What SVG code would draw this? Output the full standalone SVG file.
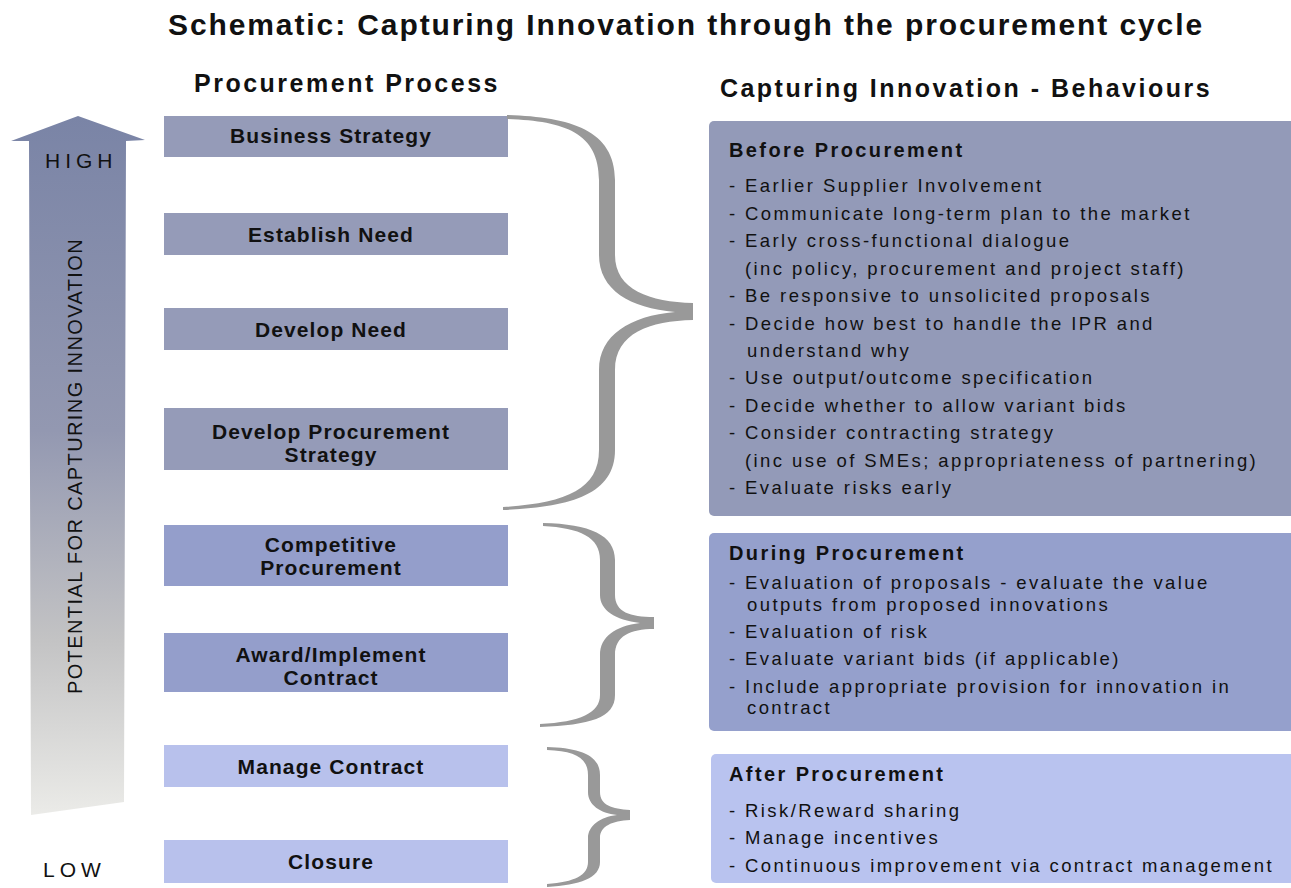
<svg xmlns="http://www.w3.org/2000/svg" width="1291" height="888" viewBox="0 0 1291 888">
<defs>
<linearGradient id="arrowGrad" x1="0" y1="116" x2="0" y2="815" gradientUnits="userSpaceOnUse">
<stop offset="0" stop-color="#7a84a6"/>
<stop offset="0.45" stop-color="#9398b1"/>
<stop offset="0.75" stop-color="#c3c3c4"/>
<stop offset="1" stop-color="#ebebe8"/>
</linearGradient>
<style>
text{font-family:"Liberation Sans",Arial,sans-serif;fill:#111111}
.title{font-size:30px;font-weight:bold;letter-spacing:1.9px}
.head{font-size:25px;font-weight:bold;letter-spacing:2.5px}
.lbl{font-size:21px;font-weight:bold;letter-spacing:1.1px;text-anchor:middle}
.bh{font-size:20px;font-weight:bold;letter-spacing:2.4px}
.bt{font-size:18.5px;letter-spacing:2.4px}
.p1{fill:#959bb8}
.p2{fill:#949ecb}
.p3{fill:#b8c1ec}
.r1{fill:#939ab8}
.r2{fill:#95a0cc}
.r3{fill:#b9c3ef}
.brace{fill:#999999}
.axis{font-size:21px;letter-spacing:5px}
.vert{font-size:20px;letter-spacing:1.4px;text-anchor:middle}
</style>
</defs>
<rect width="1291" height="888" fill="#ffffff"/>
<text class="title" x="686" y="35" text-anchor="middle">Schematic:  Capturing Innovation through the procurement cycle</text>
<text class="head" x="347" y="92" text-anchor="middle">Procurement Process</text>
<text class="head" x="966" y="97" text-anchor="middle">Capturing Innovation - Behaviours</text>

<g id="axis">
<path d="M78,116 L145,140 L126,141 L124,802 L31,815 L29,141 L11,141 Z" fill="url(#arrowGrad)"/>
<text class="axis" x="45" y="168">HIGH</text>
<text class="axis" x="43" y="877">LOW</text>
<text class="vert" transform="translate(82,466) rotate(-90)">POTENTIAL FOR CAPTURING INNOVATION</text>
</g>

<g id="node-business-strategy"><rect class="p1" x="164" y="116" width="344" height="41"/><text class="lbl" x="331" y="143">Business Strategy</text></g>
<g id="node-establish-need"><rect class="p1" x="164" y="213" width="344" height="42"/><text class="lbl" x="331" y="242">Establish Need</text></g>
<g id="node-develop-need"><rect class="p1" x="164" y="308" width="344" height="42"/><text class="lbl" x="331" y="337">Develop Need</text></g>
<g id="node-develop-procurement-strategy"><rect class="p1" x="164" y="408" width="344" height="62"/><text class="lbl" x="331" y="439">Develop Procurement</text><text class="lbl" x="331" y="462">Strategy</text></g>
<g id="node-competitive-procurement"><rect class="p2" x="164" y="525" width="344" height="61"/><text class="lbl" x="331" y="552">Competitive</text><text class="lbl" x="331" y="575">Procurement</text></g>
<g id="node-award-implement-contract"><rect class="p2" x="164" y="633" width="344" height="59"/><text class="lbl" x="331" y="662">Award/Implement</text><text class="lbl" x="331" y="685">Contract</text></g>
<g id="node-manage-contract"><rect class="p3" x="164" y="745" width="344" height="42"/><text class="lbl" x="331" y="774">Manage Contract</text></g>
<g id="node-closure"><rect class="p3" x="164" y="840" width="344" height="43"/><text class="lbl" x="331" y="869">Closure</text></g>

<g id="connectors">
<path class="brace" d="M507,115 C570,117 615,130 615,180 L615,255 C615,290 650,302 693,303 L693,320 C650,321 615,333 615,370 L615,450 C615,495 570,507 503,510 L503,507 C565,503 599,490 599,450 L599,370 C599,335 630,316 675,312 C630,308 599,290 599,255 L599,180 C599,133 565,121 507,119 Z"/>
<path class="brace" d="M543,523 C590,524 615,535 615,560 L615,595 C615,612 630,617 654,617 L654,629 C630,629 615,636 615,655 L615,695 C615,718 590,725 540,727 L540,724 C580,722 600,713 600,695 L600,655 C600,637 615,626 640,623 C615,620 600,610 600,595 L600,560 C600,537 580,528 543,526 Z"/>
<path class="brace" d="M547,747 C580,748 600,755 600,775 L600,792 C600,805 612,809 630,810 L630,820 C612,821 600,826 600,838 L600,862 C600,878 580,885 547,887 L547,884 C575,882 588,875 588,862 L588,838 C588,826 600,817 617,815 C600,813 588,805 588,792 L588,775 C588,758 575,751 547,750 Z"/>
</g>

<g id="node-before">
<rect class="r1" x="709" y="121" width="590" height="395" rx="5"/>
<text class="bh" x="729" y="157">Before Procurement</text>
<text class="bt" x="729" y="192">- Earlier Supplier Involvement</text>
<text class="bt" x="729" y="220">- Communicate long-term plan to the market</text>
<text class="bt" x="729" y="247">- Early cross-functional dialogue</text>
<text class="bt" x="745" y="275">(inc policy, procurement and project staff)</text>
<text class="bt" x="729" y="302">- Be responsive to unsolicited proposals</text>
<text class="bt" x="729" y="330">- Decide how best to handle the IPR and</text>
<text class="bt" x="747" y="357">understand why</text>
<text class="bt" x="729" y="384">- Use output/outcome specification</text>
<text class="bt" x="729" y="412">- Decide whether to allow variant bids</text>
<text class="bt" x="729" y="439">- Consider contracting strategy</text>
<text class="bt" x="745" y="467">(inc use of SMEs; appropriateness of partnering)</text>
<text class="bt" x="729" y="494">- Evaluate risks early</text>
</g>

<g id="node-during">
<rect class="r2" x="709" y="533" width="590" height="198" rx="5"/>
<text class="bh" x="729" y="560">During Procurement</text>
<text class="bt" x="729" y="589">- Evaluation of proposals - evaluate the value</text>
<text class="bt" x="747" y="611">outputs from proposed innovations</text>
<text class="bt" x="729" y="638">- Evaluation of risk</text>
<text class="bt" x="729" y="665">- Evaluate variant bids (if applicable)</text>
<text class="bt" x="729" y="693">- Include appropriate provision for innovation in</text>
<text class="bt" x="747" y="714">contract</text>
</g>

<g id="node-after">
<rect class="r3" x="711" y="754" width="588" height="129" rx="5"/>
<text class="bh" x="729" y="781">After Procurement</text>
<text class="bt" x="729" y="817">- Risk/Reward sharing</text>
<text class="bt" x="729" y="844">- Manage incentives</text>
<text class="bt" x="729" y="872">- Continuous improvement via contract management</text>
</g>
</svg>
